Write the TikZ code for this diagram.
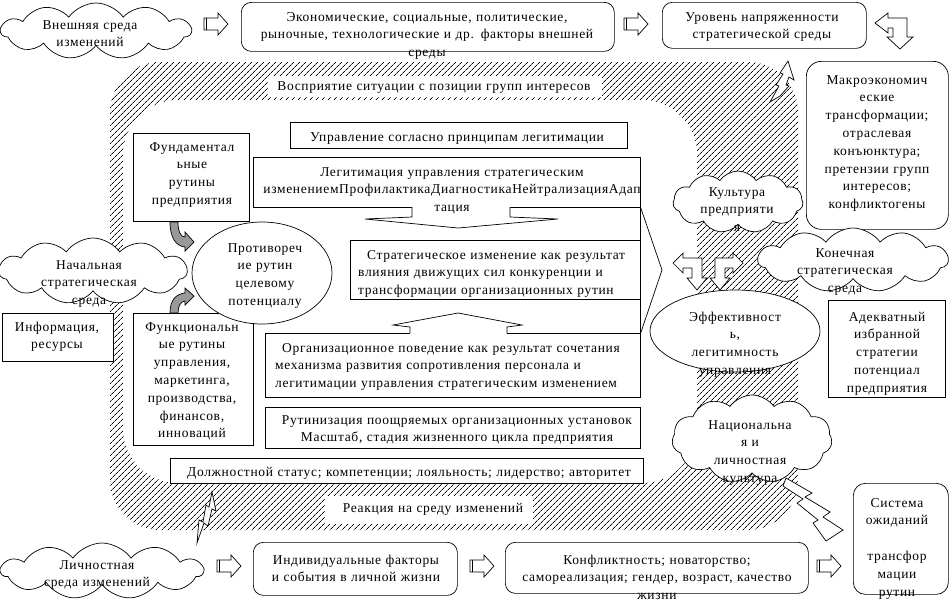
\documentclass[tikz,border=0pt]{standalone}
\usepackage{fontspec}
\setmainfont{Liberation Serif}[LetterSpace=5]
\usetikzlibrary{shapes.geometric,shapes.symbols,patterns.meta}
\newcommand\fsz{\fontsize{13.5}{17.8}\selectfont}
\tikzset{
  txt/.style={font=\fsz, inner sep=0pt, align=center, text width=540pt, anchor=base},
  txtl/.style={font=\fsz, inner sep=0pt, align=left, text width=420pt, anchor=base west},
  bx/.style={rectangle, draw, line width=0.7pt, fill=white, inner sep=0pt, anchor=north west},
  rbx/.style={bx, rounded corners=10pt},
  cl/.style={cloud, cloud puffs=11, cloud puff arc=110, cloud ignores aspect, draw, fill=white, line width=0.7pt, inner sep=0pt},
  el/.style={ellipse, draw, fill=white, line width=0.7pt, inner sep=0pt},
  wshape/.style={draw, line width=0.7pt, fill=white},
  gshape/.style={draw, line width=0.7pt, fill=black!40},
  thin line/.style={draw, line width=0.7pt},
  warrow/.pic={\draw[line width=0.7pt, fill=white] (0,-6) -- (14,-6) -- (14,-11) -- (24,0) -- (14,11) -- (14,6) -- (0,6) -- cycle; \draw[line width=0.7pt] (2.5,-6) -- (2.5,6);},
}
\begin{document}
\begin{tikzpicture}[x=1pt,y=-1pt]
\useasboundingbox (0,0) rectangle (950,603);
\fill[white] (0,0) rectangle (950,603);
% hatched frame
\fill[pattern={Lines[angle=45,distance=4pt,line width=0.7pt]}, rounded corners=50pt] (110,62) rectangle (798,530);
\fill[white, rounded corners=55pt] (123,100) rectangle (697,483);

% ---- top row
\node[cl, minimum width=190, minimum height=56] (c1) at (96,31) {};
\node[txt] (c1t) at (90,29) {Внешняя среда\\изменений};
\pic (a1) at (204,24) {warrow};
\node[rbx, minimum width=373, minimum height=49] (eco) at (241,2) {};
\node[txt] (ecot) at (427,21) {Экономические, социальные, политические,\\рыночные, технологические и др. факторы внешней\\среды};
\pic (a2) at (624,24) {warrow};
\node[rbx, minimum width=204, minimum height=46] (lvl) at (662,2) {};
\node[txt] (lvlt) at (762,21) {Уровень напряженности\\стратегической среды};
\draw[wshape] (875,23) -- (888,13) -- (888,18) -- (907,18) -- (907,37) -- (913,37) -- (900,49) -- (887,37) -- (893,37) -- (893,28) -- (888,28) -- (888,33) -- cycle;

% perception label
\node[bx, draw=none, minimum width=334, minimum height=21] (perc) at (268,76) {};
\node[txt] (perct) at (434,90) {Восприятие ситуации с позиции групп интересов};

% lightning top right
\draw[wshape] (770,102) -- (779,86) -- (776,85) -- (783,74) -- (780,73) -- (788,61) -- (794,80) -- (789,77) -- (786,85) -- (789,86) -- (780,96) -- cycle;

% ---- macro box
\node[rbx, rounded corners=15pt, minimum width=142, minimum height=168] (macro) at (806,61) {};
\node[txt] (macrot) at (877,84) {Макроэкономич\\еские\\трансформации;\\отраслевая\\конъюнктура;\\претензии групп\\интересов;\\конфликтогены};

% ---- inner boxes
\node[bx, minimum width=337, minimum height=26] (upr) at (290,122) {};
\node[txt] (uprt) at (457,141) {Управление согласно принципам легитимации};
\node[bx, minimum width=387, minimum height=50] (leg) at (253,157) {};
\node[bx, minimum width=290, minimum height=59] (strat) at (350,240) {};
\node[bx, minimum width=375, minimum height=64] (org) at (265,333) {};
\node[bx, minimum width=375, minimum height=41] (rut) at (265,407) {};
\node[bx, minimum width=116, minimum height=88] (fund) at (133,133) {};
\node[bx, minimum width=120, minimum height=132] (func) at (133,313) {};

% connecting lines at the right side of the central boxes
\draw[thin line] (leg.south east) -- (strat.north east);
\draw[thin line] (strat.south east) -- (org.north east);
\coordinate (chev) at (662,270);
\draw[thin line] (leg.south east) -- (chev) -- (org.north east);

% wide down arrow
\fill[white] (412.4,205.5) rectangle (509.6,208.5);
\draw[wshape] (412,207) -- (412,217) -- (365,219) -- (458,228) -- (558,219) -- (510,217) -- (510,207);
% wide up arrow
\fill[white] (410.4,331.5) rectangle (506.6,334.5);
\draw[wshape] (410,333) -- (410,327) -- (393,325) -- (458,313) -- (522,325) -- (507,327) -- (507,333);

\node[txt] (legt) at (452,176) {Легитимация управления стратегическим\\изменениемПрофилактикаДиагностикаНейтрализацияАдап\\тация};
\node[txtl] (stratt) at (358,259) {\hspace*{9pt}Стратегическое изменение как результат\\влияния движущих сил конкуренции и\\трансформации организационных рутин};
\node[txtl] (orgt) at (275,352) {\hspace*{7pt}Организационное поведение как результат сочетания\\механизма развития сопротивления персонала и\\легитимации управления стратегическим изменением};
\node[txt] (rutt) at (457,424) {Рутинизация поощряемых организационных установок\\Масштаб, стадия жизненного цикла предприятия};
\node[txt] (fundt) at (192,151) {Фундаментал\\ьные\\рутины\\предприятия};
\node[txt] (funct) at (192,331) {Функциональн\\ые рутины\\управления,\\маркетинга,\\производства,\\финансов,\\инноваций};

% contradiction ellipse
\node[el, minimum width=140, minimum height=102] (contr) at (262,273) {};
\node[txt] (contrt) at (265,252) {Противореч\\ие рутин\\целевому\\потенциалу};

% grey curved arrows
\draw[gshape] (170,222) .. controls (170,238) and (176,246) .. (185,247) -- (185,251) -- (194,242) -- (185,232) -- (185,237) .. controls (181,237) and (178,232) .. (178,222) -- cycle;
\draw[gshape] (170,313) .. controls (170,300) and (176,294) .. (185,293) -- (185,288) -- (194,296) -- (185,305) -- (185,301) .. controls (181,301) and (178,306) .. (178,313) -- cycle;

% left side
\node[cl, minimum width=188, minimum height=66] (c2) at (93,271) {};
\node[txt] (c2t) at (89,269) {Начальная\\стратегическая\\среда};
\node[bx, minimum width=111, minimum height=48] (info) at (2,313) {};
\node[txt] (infot) at (57,331) {Информация,\\ресурсы};

% bottom of frame
\node[bx, minimum width=473, minimum height=25] (dolzh) at (170,458) {};
\node[txt] (dolzht) at (409,476) {Должностной статус; компетенции; лояльность; лидерство; авторитет};
\node[bx, draw=none, minimum width=208, minimum height=28] (react) at (325,496) {};
\node[txt] (reactt) at (433,512) {Реакция на среду изменений};

% right side of frame
\node[cl, minimum width=130, minimum height=62] (c4) at (738,202) {};
\node[txt] (c4t) at (737,196) {Культура\\предприяти\\я};
\node[cl, minimum width=190, minimum height=64] (c5) at (853,260) {};
\node[txt] (c5t) at (845,257) {Конечная\\стратегическая\\среда};
\draw[wshape] (673,263) -- (683,253) -- (683,258) -- (702,258) -- (702,278) -- (707,278) -- (697,290) -- (687,278) -- (692,278) -- (692,268) -- (683,268) -- (683,273) -- cycle;
\draw[wshape] (743,263) -- (733,253) -- (733,258) -- (715,258) -- (715,278) -- (710,278) -- (720,290) -- (730,278) -- (725,278) -- (725,268) -- (733,268) -- (733,273) -- cycle;
\node[el, minimum width=170, minimum height=82] (eff) at (735,331) {};
\node[txt] (efft) at (735,321) {Эффективност\\ь,\\легитимность\\управления};
\node[bx, minimum width=117, minimum height=97] (adek) at (828,300) {};
\node[txt] (adekt) at (887,321) {Адекватный\\избранной\\стратегии\\потенциал\\предприятия};
\node[cl, minimum width=160, minimum height=88] (c6) at (752,439) {};
\node[txt] (c6t) at (750,429) {Национальна\\я и\\личностная\\культура};
\draw[wshape] (786,478) -- (812,493) -- (805,497) -- (830,512) -- (823,517) -- (843,530) -- (826,541) -- (813,523) -- (818,520) -- (797,503) -- (803,499) -- (783,486) -- cycle;
\node[rbx, rounded corners=12pt, minimum width=95, minimum height=111] (sys) at (853,483) {};
\node[txt] (syst) at (897,507) {Система\\ожиданий\\\mbox{}\\трансфор\\мации\\рутин};

% lightning bottom left
\draw[wshape] (212,492) -- (216,511) -- (212,509) -- (208,526) -- (204,523) -- (197,543) -- (199,520) -- (203,522) -- (206,505) -- (209,507) -- cycle;

% ---- bottom row
\node[cl, minimum width=202, minimum height=56] (c3) at (102,571) {};
\node[txt] (c3t) at (97,569) {Личностная\\среда изменений};
\pic (a3) at (217,566) {warrow};
\node[rbx, minimum width=204, minimum height=53] (indiv) at (253,542) {};
\node[txt] (indivt) at (356,564) {Индивидуальные факторы\\и события в личной жизни};
\pic (a4) at (470,566) {warrow};
\node[rbx, minimum width=303, minimum height=51] (konf) at (505,542) {};
\node[txt] (konft) at (657,564) {Конфликтность; новаторство;\\самореализация; гендер, возраст, качество\\жизни};
\pic (a5) at (817,566) {warrow};
\end{tikzpicture}
\end{document}
